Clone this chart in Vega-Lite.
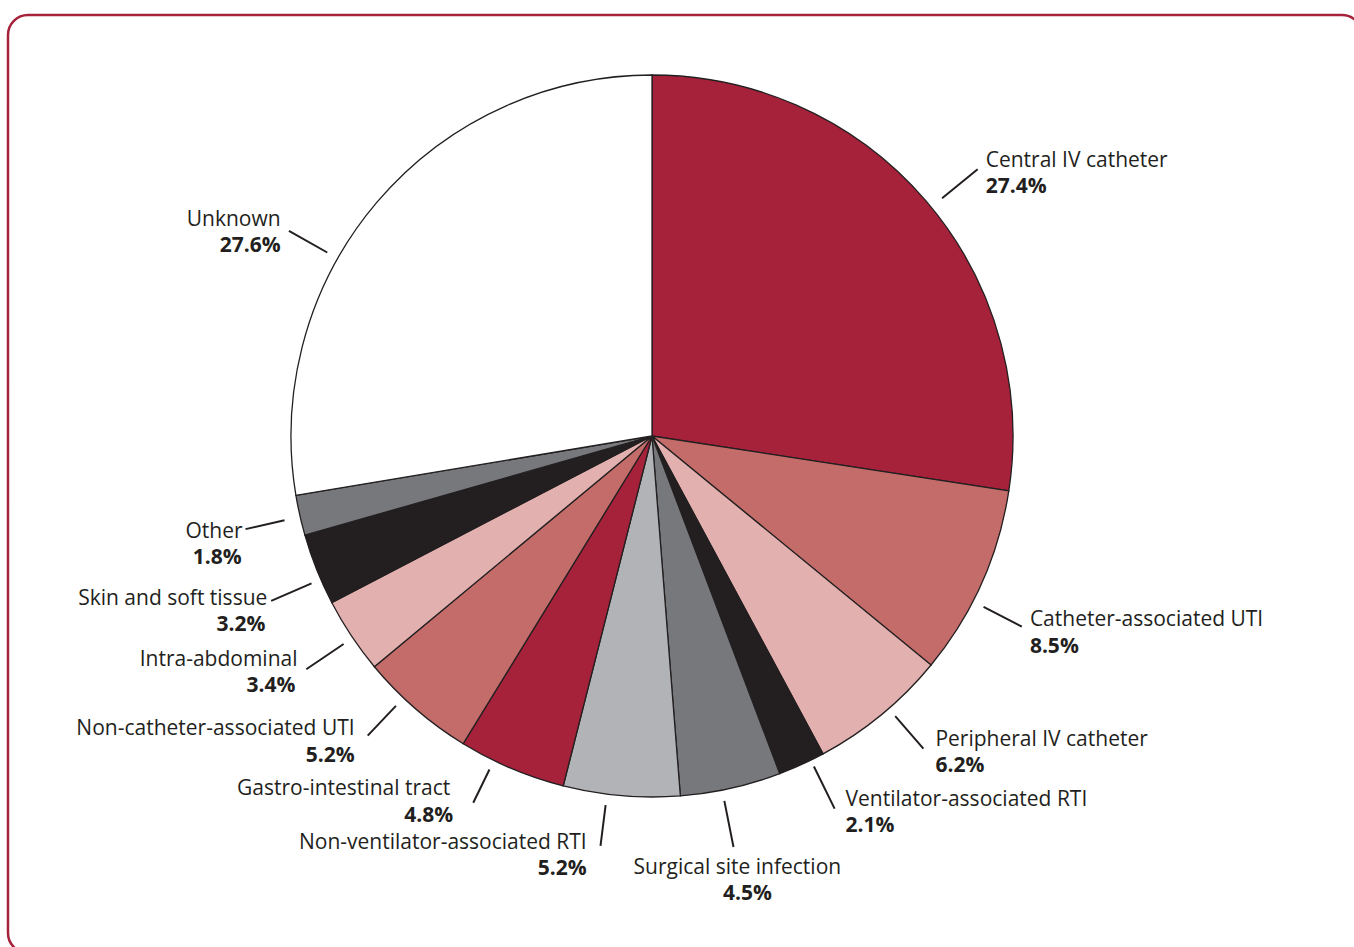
{
  "$schema": "https://vega.github.io/schema/vega-lite/v6.json",
  "width": 1354,
  "height": 938,
  "autosize": {"type": "none"},
  "padding": {"left": 8, "top": 15, "right": -8, "bottom": -6},
  "background": "white",
  "config": {
    "view": {"stroke": "#A6213A", "strokeWidth": 2.5, "cornerRadius": 20},
    "text": {"font": "Open Sans", "fontSize": 21, "fill": "#231F20", "baseline": "middle"}
  },
  "data": {
    "values": [
      {"idx": 1, "cause": "Central IV catheter", "share": 0.274},
      {"idx": 2, "cause": "Catheter-associated UTI", "share": 0.085},
      {"idx": 3, "cause": "Peripheral IV catheter", "share": 0.062},
      {"idx": 4, "cause": "Ventilator-associated RTI", "share": 0.021},
      {"idx": 5, "cause": "Surgical site infection", "share": 0.045},
      {"idx": 6, "cause": "Non-ventilator-associated RTI", "share": 0.052},
      {"idx": 7, "cause": "Gastro-intestinal tract", "share": 0.048},
      {"idx": 8, "cause": "Non-catheter-associated UTI", "share": 0.052},
      {"idx": 9, "cause": "Intra-abdominal", "share": 0.034},
      {"idx": 10, "cause": "Skin and soft tissue", "share": 0.032},
      {"idx": 11, "cause": "Other", "share": 0.018},
      {"idx": 12, "cause": "Unknown", "share": 0.276}
    ]
  },
  "encoding": {
    "theta": {"field": "share", "type": "quantitative", "stack": true},
    "order": {"field": "idx", "type": "quantitative"},
    "x": {"datum": 0, "type": "quantitative", "scale": {"domain": [-644, 710], "nice": false, "zero": false}, "axis": null},
    "y": {"datum": 0, "type": "quantitative", "scale": {"domain": [-517, 421], "nice": false, "zero": false}, "axis": null}
  },
  "layer": [
    {
      "mark": {"type": "arc", "radius": 361, "stroke": "#231F20", "strokeWidth": 1.3},
      "encoding": {
        "color": {
          "field": "cause", "type": "nominal", "legend": null,
          "scale": {
            "domain": ["Central IV catheter", "Catheter-associated UTI", "Peripheral IV catheter", "Ventilator-associated RTI", "Surgical site infection", "Non-ventilator-associated RTI", "Gastro-intestinal tract", "Non-catheter-associated UTI", "Intra-abdominal", "Skin and soft tissue", "Other", "Unknown"],
            "range": ["#A6213A", "#C46C6A", "#E2B1AF", "#231F20", "#77787B", "#B1B3B6", "#A6213A", "#C46C6A", "#E2B1AF", "#231F20", "#77787B", "#FFFFFF"]
          }
        }
      }
    },
    {"mark": {"type": "arc", "outerRadius": 421, "innerRadius": 375, "padAngle": 3.1416, "thetaOffset": 0.0227, "theta2Offset": 0.0227, "filled": false, "stroke": "#231F20", "strokeWidth": 2}, "encoding": {"opacity": {"condition": {"test": "datum.idx === 1", "value": 1}, "value": 0}}},
    {"mark": {"type": "arc", "outerRadius": 416, "innerRadius": 373, "padAngle": 3.1416, "thetaOffset": 0.0559, "theta2Offset": 0.0559, "filled": false, "stroke": "#231F20", "strokeWidth": 2}, "encoding": {"opacity": {"condition": {"test": "datum.idx === 2", "value": 1}, "value": 0}}},
    {"mark": {"type": "arc", "outerRadius": 414, "innerRadius": 371, "padAngle": 3.1416, "thetaOffset": -0.0262, "theta2Offset": -0.0262, "filled": false, "stroke": "#231F20", "strokeWidth": 2}, "encoding": {"opacity": {"condition": {"test": "datum.idx === 3", "value": 1}, "value": 0}}},
    {"mark": {"type": "arc", "outerRadius": 415, "innerRadius": 368, "padAngle": 3.1416, "thetaOffset": -0.0279, "theta2Offset": -0.0279, "filled": false, "stroke": "#231F20", "strokeWidth": 2}, "encoding": {"opacity": {"condition": {"test": "datum.idx === 4", "value": 1}, "value": 0}}},
    {"mark": {"type": "arc", "outerRadius": 419, "innerRadius": 372, "padAngle": 3.1416, "thetaOffset": 0.0244, "theta2Offset": 0.0244, "filled": false, "stroke": "#231F20", "strokeWidth": 2}, "encoding": {"opacity": {"condition": {"test": "datum.idx === 5", "value": 1}, "value": 0}}},
    {"mark": {"type": "arc", "outerRadius": 413, "innerRadius": 372, "padAngle": 3.1416, "thetaOffset": 0.0401, "theta2Offset": 0.0401, "filled": false, "stroke": "#231F20", "strokeWidth": 2}, "encoding": {"opacity": {"condition": {"test": "datum.idx === 6", "value": 1}, "value": 0}}},
    {"mark": {"type": "arc", "outerRadius": 408, "innerRadius": 371, "padAngle": 3.1416, "thetaOffset": 0.0541, "theta2Offset": 0.0541, "filled": false, "stroke": "#231F20", "strokeWidth": 2}, "encoding": {"opacity": {"condition": {"test": "datum.idx === 7", "value": 1}, "value": 0}}},
    {"mark": {"type": "arc", "outerRadius": 413, "innerRadius": 372, "padAngle": 3.1416, "thetaOffset": 0.0454, "theta2Offset": 0.0454, "filled": false, "stroke": "#231F20", "strokeWidth": 2}, "encoding": {"opacity": {"condition": {"test": "datum.idx === 8", "value": 1}, "value": 0}}},
    {"mark": {"type": "arc", "outerRadius": 417, "innerRadius": 372, "padAngle": 3.1416, "thetaOffset": -0.0070, "theta2Offset": -0.0070, "filled": false, "stroke": "#231F20", "strokeWidth": 2}, "encoding": {"opacity": {"condition": {"test": "datum.idx === 9", "value": 1}, "value": 0}}},
    {"mark": {"type": "arc", "outerRadius": 415, "innerRadius": 371, "padAngle": 3.1416, "thetaOffset": -0.0297, "theta2Offset": -0.0297, "filled": false, "stroke": "#231F20", "strokeWidth": 2}, "encoding": {"opacity": {"condition": {"test": "datum.idx === 10", "value": 1}, "value": 0}}},
    {"mark": {"type": "arc", "outerRadius": 417, "innerRadius": 377, "padAngle": 3.1416, "thetaOffset": -0.0035, "theta2Offset": -0.0035, "filled": false, "stroke": "#231F20", "strokeWidth": 2}, "encoding": {"opacity": {"condition": {"test": "datum.idx === 11", "value": 1}, "value": 0}}},
    {"mark": {"type": "arc", "outerRadius": 417, "innerRadius": 373, "padAngle": 3.1416, "thetaOffset": -0.1885, "theta2Offset": -0.1885, "filled": false, "stroke": "#231F20", "strokeWidth": 2}, "encoding": {"opacity": {"condition": {"test": "datum.idx === 12", "value": 1}, "value": 0}}},

    {"mark": {"type": "text", "radius": 416, "align": "left", "dx": 18, "dy": -4}, "encoding": {"text": {"condition": {"test": "datum.idx === 1", "field": "cause", "type": "nominal"}, "value": ""}}},
    {"mark": {"type": "text", "radius": 416, "align": "left", "dx": 18, "dy": 22, "fontWeight": "bold"}, "encoding": {"text": {"condition": {"test": "datum.idx === 1", "field": "share", "type": "quantitative", "format": ".1%"}, "value": ""}}},
    {"mark": {"type": "text", "radius": 416, "align": "left", "dx": -2, "dy": 14}, "encoding": {"text": {"condition": {"test": "datum.idx === 2", "field": "cause", "type": "nominal"}, "value": ""}}},
    {"mark": {"type": "text", "radius": 416, "align": "left", "dx": -2, "dy": 41, "fontWeight": "bold"}, "encoding": {"text": {"condition": {"test": "datum.idx === 2", "field": "share", "type": "quantitative", "format": ".1%"}, "value": ""}}},
    {"mark": {"type": "text", "radius": 416, "align": "left", "dx": 19, "dy": -17.5}, "encoding": {"text": {"condition": {"test": "datum.idx === 3", "field": "cause", "type": "nominal"}, "value": ""}}},
    {"mark": {"type": "text", "radius": 416, "align": "left", "dx": 19, "dy": 8.5, "fontWeight": "bold"}, "encoding": {"text": {"condition": {"test": "datum.idx === 3", "field": "share", "type": "quantitative", "format": ".1%"}, "value": ""}}},
    {"mark": {"type": "text", "radius": 416, "align": "left", "dx": 21, "dy": -15}, "encoding": {"text": {"condition": {"test": "datum.idx === 4", "field": "cause", "type": "nominal"}, "value": ""}}},
    {"mark": {"type": "text", "radius": 416, "align": "left", "dx": 21, "dy": 11, "fontWeight": "bold"}, "encoding": {"text": {"condition": {"test": "datum.idx === 4", "field": "share", "type": "quantitative", "format": ".1%"}, "value": ""}}},
    {"mark": {"type": "text", "radius": 416, "align": "center", "dx": -5.5, "dy": 26}, "encoding": {"text": {"condition": {"test": "datum.idx === 5", "field": "cause", "type": "nominal"}, "value": ""}}},
    {"mark": {"type": "text", "radius": 416, "align": "center", "dx": 4.5, "dy": 52, "fontWeight": "bold"}, "encoding": {"text": {"condition": {"test": "datum.idx === 5", "field": "share", "type": "quantitative", "format": ".1%"}, "value": ""}}},
    {"mark": {"type": "text", "radius": 416, "align": "right", "dx": -30, "dy": -7.6}, "encoding": {"text": {"condition": {"test": "datum.idx === 6", "field": "cause", "type": "nominal"}, "value": ""}}},
    {"mark": {"type": "text", "radius": 416, "align": "right", "dx": -30, "dy": 18.4, "fontWeight": "bold"}, "encoding": {"text": {"condition": {"test": "datum.idx === 6", "field": "share", "type": "quantitative", "format": ".1%"}, "value": ""}}},
    {"mark": {"type": "text", "radius": 416, "align": "right", "dx": -40, "dy": -30}, "encoding": {"text": {"condition": {"test": "datum.idx === 7", "field": "cause", "type": "nominal"}, "value": ""}}},
    {"mark": {"type": "text", "radius": 416, "align": "right", "dx": -37, "dy": -3.5, "fontWeight": "bold"}, "encoding": {"text": {"condition": {"test": "datum.idx === 7", "field": "share", "type": "quantitative", "format": ".1%"}, "value": ""}}},
    {"mark": {"type": "text", "radius": 416, "align": "right", "dx": -25, "dy": -21.5}, "encoding": {"text": {"condition": {"test": "datum.idx === 8", "field": "cause", "type": "nominal"}, "value": ""}}},
    {"mark": {"type": "text", "radius": 416, "align": "right", "dx": -25, "dy": 5.5, "fontWeight": "bold"}, "encoding": {"text": {"condition": {"test": "datum.idx === 8", "field": "share", "type": "quantitative", "format": ".1%"}, "value": ""}}},
    {"mark": {"type": "text", "radius": 416, "align": "right", "dx": -8, "dy": -6.7}, "encoding": {"text": {"condition": {"test": "datum.idx === 9", "field": "cause", "type": "nominal"}, "value": ""}}},
    {"mark": {"type": "text", "radius": 416, "align": "right", "dx": -10, "dy": 19.3, "fontWeight": "bold"}, "encoding": {"text": {"condition": {"test": "datum.idx === 9", "field": "share", "type": "quantitative", "format": ".1%"}, "value": ""}}},
    {"mark": {"type": "text", "radius": 416, "align": "right", "dx": 1.8, "dy": 9}, "encoding": {"text": {"condition": {"test": "datum.idx === 10", "field": "cause", "type": "nominal"}, "value": ""}}},
    {"mark": {"type": "text", "radius": 416, "align": "right", "dx": -0.2, "dy": 35, "fontWeight": "bold"}, "encoding": {"text": {"condition": {"test": "datum.idx === 10", "field": "share", "type": "quantitative", "format": ".1%"}, "value": ""}}},
    {"mark": {"type": "text", "radius": 416, "align": "right", "dx": -3.6, "dy": 4.7}, "encoding": {"text": {"condition": {"test": "datum.idx === 11", "field": "cause", "type": "nominal"}, "value": ""}}},
    {"mark": {"type": "text", "radius": 416, "align": "right", "dx": -4.6, "dy": 30.7, "fontWeight": "bold"}, "encoding": {"text": {"condition": {"test": "datum.idx === 11", "field": "share", "type": "quantitative", "format": ".1%"}, "value": ""}}},
    {"mark": {"type": "text", "radius": 416, "align": "right", "dx": -54, "dy": 53.2}, "encoding": {"text": {"condition": {"test": "datum.idx === 12", "field": "cause", "type": "nominal"}, "value": ""}}},
    {"mark": {"type": "text", "radius": 416, "align": "right", "dx": -54, "dy": 79.2, "fontWeight": "bold"}, "encoding": {"text": {"condition": {"test": "datum.idx === 12", "field": "share", "type": "quantitative", "format": ".1%"}, "value": ""}}}
  ]
}
